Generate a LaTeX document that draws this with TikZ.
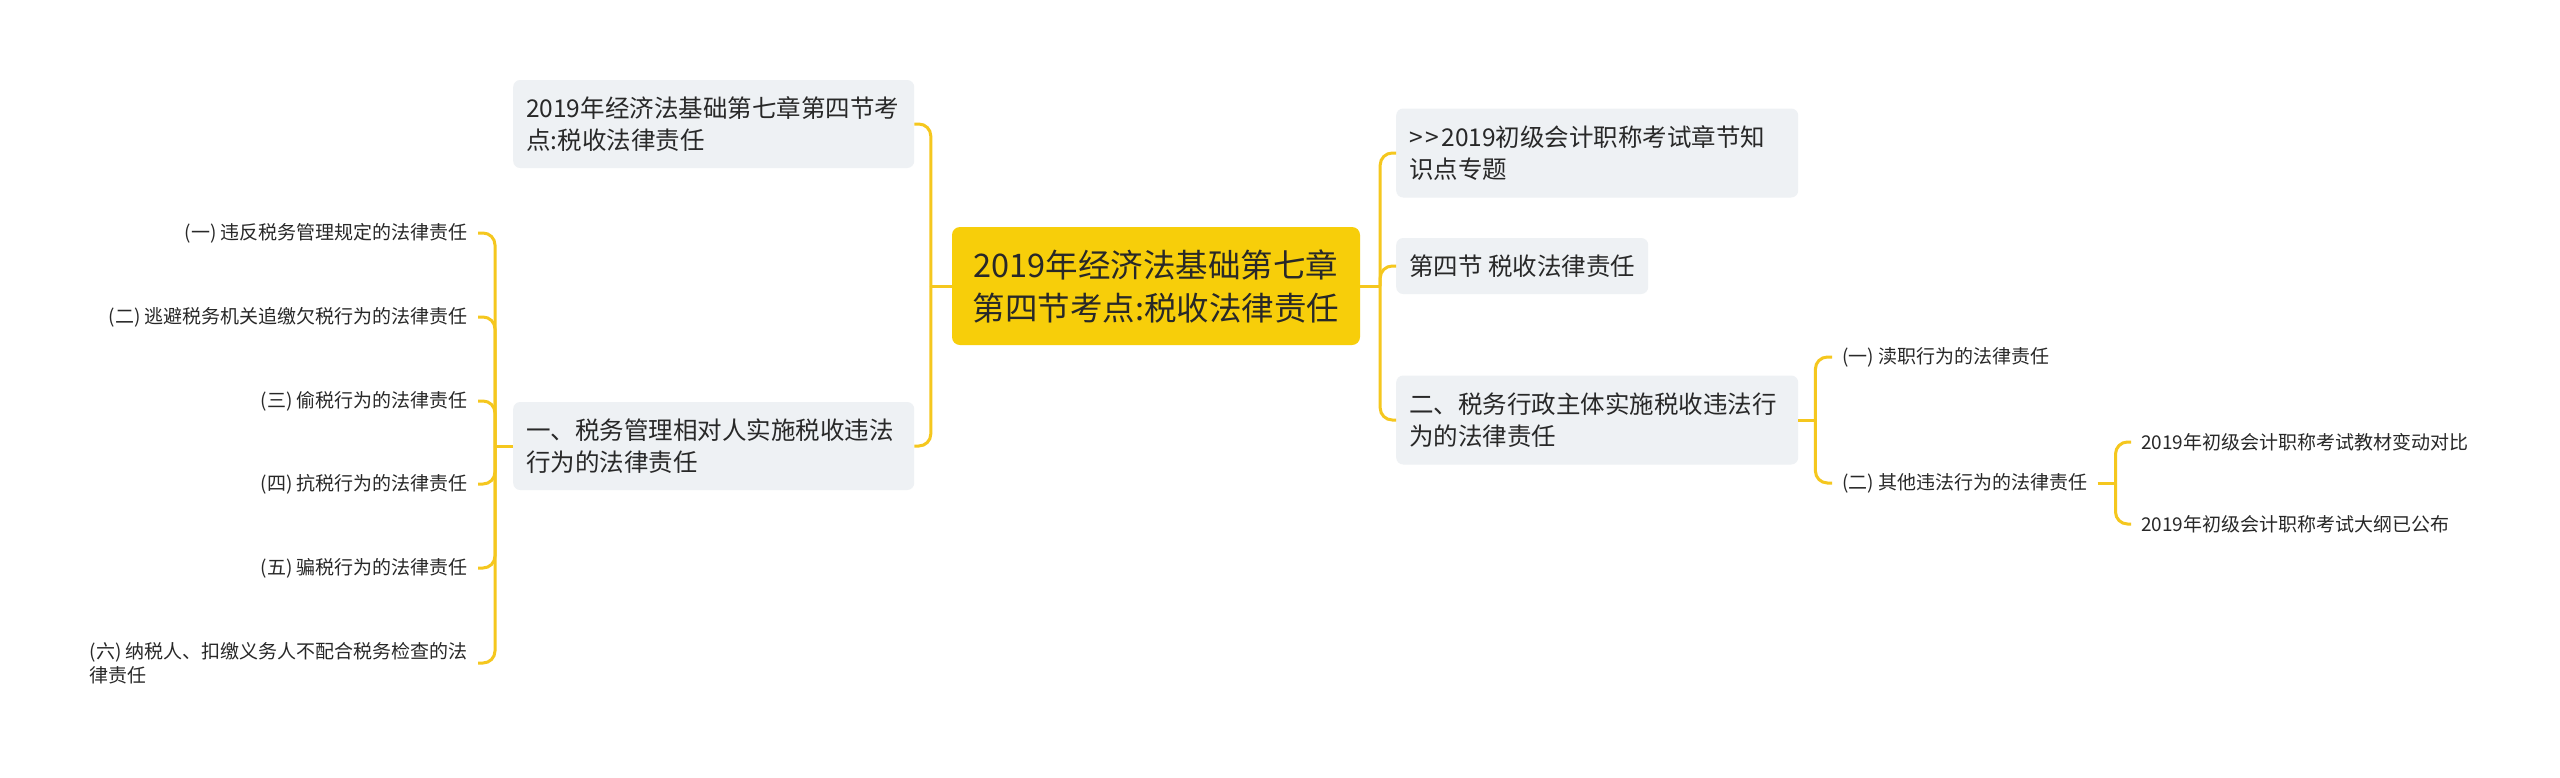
\documentclass[tikz,border=0pt]{standalone}
\usepackage{fontspec}
\setmainfont{Noto Sans CJK SC}
\usepackage{tikz}
\usetikzlibrary{positioning,calc}
\definecolor{rootyellow}{RGB}{247,206,10}
\definecolor{linkyellow}{RGB}{245,199,30}
\definecolor{boxgray}{RGB}{238,241,244}
\definecolor{txt}{RGB}{40,40,40}

\begin{document}
\begin{tikzpicture}[x=1pt,y=-1pt,
  rootbox/.style={fill=rootyellow, rounded corners=8pt, text=txt, align=center,
    font=\fontsize{32.5}{43}\selectfont, minimum width=408pt, minimum height=118pt, inner sep=0pt},
  topicbox/.style={fill=boxgray, rounded corners=7pt, text=txt, align=left, anchor=west,
    font=\fontsize{24.5}{32}\selectfont, inner xsep=13pt, inner ysep=0pt},
  leaf/.style={text=txt, font=\fontsize{19}{24}\selectfont, inner xsep=10pt, inner ysep=0pt},
  link/.style={draw=linkyellow, line width=3pt, rounded corners=12pt}]
    \fill[white] (0,0) rectangle (2560,777);
    \useasboundingbox (0,0) rectangle (2560,777);

    \node[rootbox] (root) at (1156,286) {2019年经济法基础第七章\\第四节考点:税收法律责任};

    \node[topicbox, text width=375pt, minimum height=88pt] (lb1) at (513,124) {2019年经济法基础第七章第四节考\\点:税收法律责任};
    \node[topicbox, text width=375pt, minimum height=88pt] (lb2) at (513,446) {一、税务管理相对人实施税收违法\\行为的法律责任};
    \node[topicbox, text width=376pt, minimum height=89pt] (rb1) at (1396,153) {>\kern3pt>\kern2pt2019初级会计职称考试章节知\\识点专题};
    \node[topicbox, minimum height=56pt] (rb2) at (1396,266) {第四节 税收法律责任};
    \node[topicbox, text width=376pt, minimum height=89pt] (rb3) at (1396,420) {二、税务行政主体实施税收违法行\\为的法律责任};

    \node[leaf, anchor=east] (ll1) at (478,233) {(一) 违反税务管理规定的法律责任};
    \node[leaf, anchor=east] (ll2) at (478,317) {(二) 逃避税务机关追缴欠税行为的法律责任};
    \node[leaf, anchor=east] (ll3) at (478,401) {(三) 偷税行为的法律责任};
    \node[leaf, anchor=east] (ll4) at (478,484) {(四) 抗税行为的法律责任};
    \node[leaf, anchor=east] (ll5) at (478,568) {(五) 骗税行为的法律责任};
    \node[leaf, anchor=east, align=left] (ll6) at (478,663) {(六) 纳税人、扣缴义务人不配合税务检查的法\\律责任};

    \node[leaf, anchor=west] (rl1) at (1832,357) {(一) 渎职行为的法律责任};
    \node[leaf, anchor=west] (rl2) at (1832,483) {(二) 其他违法行为的法律责任};

    \node[leaf, anchor=west] (rs1) at (2131,442) {2019年初级会计职称考试教材变动对比};
    \node[leaf, anchor=west] (rs2) at (2131,524) {2019年初级会计职称考试大纲已公布};

    \coordinate (jl) at ($(root.west)+(-21,0)$);
    \coordinate (jr) at ($(root.east)+(20,0)$);
    \coordinate (jll) at ($(lb2.west)+(-18,0)$);
    \coordinate (jrr) at ($(rb3.east)+(17,0)$);
    \coordinate (jrs) at ($(rl2.east)+(18,0)$);

    \draw[link] (root.west) -- (jl);
    \draw[link] (jl) |- (lb1.east);
    \draw[link] (jl) |- (lb2.east);
    \draw[link] (root.east) -- (jr);
    \foreach \n in {1,2,3}
        \draw[link] (jr) |- (rb\n.west);

    \draw[link] (lb2.west) -- (jll);
    \foreach \n in {1,...,6}
        \draw[link] (jll) |- (ll\n.east);

    \draw[link] (rb3.east) -- (jrr);
    \draw[link] (jrr) |- (rl1.west);
    \draw[link] (jrr) |- (rl2.west);

    \draw[link] (rl2.east) -- (jrs);
    \draw[link] (jrs) |- (rs1.west);
    \draw[link] (jrs) |- (rs2.west);
\end{tikzpicture}
\end{document}
